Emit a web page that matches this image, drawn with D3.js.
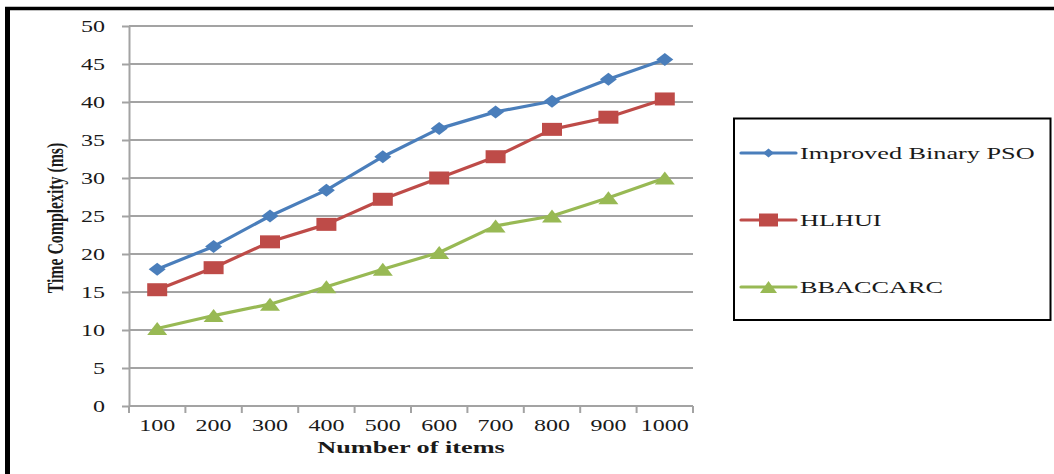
<!DOCTYPE html>
<html>
<head>
<meta charset="utf-8">
<script src="https://cdn.jsdelivr.net/npm/d3@7"></script>
<style>
  html, body { margin: 0; padding: 0; background: #fff; }
  svg { display: block; }
  text { font-family: "Liberation Serif", "Times New Roman", serif; fill: #1a1a1a; }
</style>
</head>
<body>
<svg id="chart" width="1054" height="474"></svg>
<script>
// Number of items on the x axis
const categories = ["100", "200", "300", "400", "500", "600", "700", "800", "900", "1000"];

// Time complexity (ms) for each method
const improvedBinaryPSO = [18.0, 21.0, 25.0, 28.4, 32.8, 36.5, 38.7, 40.1, 43.0, 45.6];
const hlhui             = [15.3, 18.2, 21.6, 23.9, 27.2, 30.0, 32.8, 36.4, 38.0, 40.4];
const bbaccarc          = [10.2, 11.9, 13.4, 15.7, 18.0, 20.2, 23.7, 25.0, 27.4, 30.0];

const seriesNames = ["Improved Binary PSO", "HLHUI", "BBACCARC"];
const yTicks = [0, 5, 10, 15, 20, 25, 30, 35, 40, 45, 50];

const series = [
  { name: seriesNames[0], values: improvedBinaryPSO, color: "#4a7ebb", marker: "diamond" },
  { name: seriesNames[1], values: hlhui,             color: "#be4b48", marker: "square" },
  { name: seriesNames[2], values: bbaccarc,          color: "#98b954", marker: "triangle" }
];

// Horizontal stretch applied to glyphs and markers
const SX = 1.5;

const svg = d3.select("#chart");
const plot = { left: 129, right: 693, top: 26, bottom: 406 };

const x = d3.scaleBand().domain(categories).range([plot.left, plot.right]).padding(0);
const y = d3.scaleLinear().domain([0, 50]).range([plot.bottom, plot.top]);
const cx = c => x(c) + x.bandwidth() / 2;

// Outer frame (left and top edges)
svg.append("line").attr("x1", 7.5).attr("x2", 7.5).attr("y1", 7).attr("y2", 474)
  .attr("stroke", "#000").attr("stroke-width", 5);
svg.append("line").attr("x1", 5).attr("x2", 1054).attr("y1", 8.5).attr("y2", 8.5)
  .attr("stroke", "#000").attr("stroke-width", 3.5);

const gridColor = "#a3a3a3";

// Horizontal gridlines
svg.append("g").selectAll("line")
  .data(yTicks.filter(t => t > 0))
  .join("line")
  .attr("x1", plot.left).attr("x2", plot.right)
  .attr("y1", d => y(d)).attr("y2", d => y(d))
  .attr("stroke", gridColor).attr("stroke-width", 2);

// Y axis
const yAxis = svg.append("g")
  .attr("transform", `translate(${plot.left},0)`)
  .call(d3.axisLeft(y).tickValues(yTicks).tickSize(7).tickSizeOuter(0).tickPadding(0));
yAxis.select(".domain").attr("stroke", gridColor).attr("stroke-width", 2);
yAxis.selectAll(".tick line").attr("stroke", gridColor).attr("stroke-width", 2);
yAxis.selectAll(".tick text")
  .attr("x", -24 / SX)
  .attr("dy", "0.35em")
  .attr("text-anchor", "end")
  .attr("transform", `scale(${SX},1)`)
  .style("font-size", "16px")
  .style("font-family", "'Liberation Serif', 'Times New Roman', serif")
  .attr("fill", "#1a1a1a");

// X axis line and boundary ticks
const xg = svg.append("g");
xg.append("line")
  .attr("x1", plot.left).attr("x2", plot.right)
  .attr("y1", plot.bottom).attr("y2", plot.bottom)
  .attr("stroke", gridColor).attr("stroke-width", 2);
const boundaries = categories.map(c => x(c)).concat([x.range()[1]]);
xg.selectAll("line.tick")
  .data(boundaries)
  .join("line").attr("class", "tick")
  .attr("x1", d => d).attr("x2", d => d)
  .attr("y1", plot.bottom).attr("y2", plot.bottom + 7)
  .attr("stroke", gridColor).attr("stroke-width", 2);

// X tick labels
xg.selectAll("text")
  .data(categories)
  .join("text")
  .attr("transform", d => `translate(${cx(d)},${plot.bottom + 19}) scale(${SX},1)`)
  .attr("dy", "0.35em")
  .attr("text-anchor", "middle")
  .style("font-size", "16px")
  .text(d => d);

// Axis titles
svg.append("text")
  .attr("transform", `translate(${(plot.left + plot.right) / 2},453) scale(${SX},1)`)
  .attr("text-anchor", "middle")
  .style("font-size", "17.5px")
  .style("font-weight", "bold")
  .text("Number of items");

svg.append("text")
  .attr("transform", `translate(63,218) scale(${SX},1) rotate(-90)`)
  .attr("text-anchor", "middle")
  .style("font-size", "15.8px")
  .style("font-weight", "bold")
  .text("Time Complexity (ms)");

// Marker shapes, widened horizontally
function markerPath(type, hw, hh) {
  if (type === "diamond") return `M${-hw},0L0,${-hh}L${hw},0L0,${hh}Z`;
  if (type === "square") return `M${-hw},${-hh}H${hw}V${hh}H${-hw}Z`;
  return `M0,${-hh}L${hw},${hh}H${-hw}Z`;
}
const markerSize = {
  diamond: [8.5, 6.5],
  square: [10, 6.5],
  triangle: [10, 6.5]
};

const line = d3.line().x(d => cx(d.c)).y(d => y(d.v));

series.forEach(s => {
  const pts = categories.map((c, i) => ({ c, v: s.values[i] }));
  const g = svg.append("g");
  g.append("path")
    .datum(pts)
    .attr("d", line)
    .attr("fill", "none")
    .attr("stroke", s.color)
    .attr("stroke-width", 3.2)
    .attr("stroke-linejoin", "round");
  const [hw, hh] = markerSize[s.marker];
  g.selectAll("path.m")
    .data(pts)
    .join("path").attr("class", "m")
    .attr("transform", d => `translate(${cx(d.c)},${y(d.v)})`)
    .attr("d", markerPath(s.marker, hw, hh))
    .attr("fill", s.color);
});

// Legend
const legend = svg.append("g");
legend.append("rect")
  .attr("x", 734).attr("y", 118.5)
  .attr("width", 316.5).attr("height", 201.5)
  .attr("fill", "#fff").attr("stroke", "#000").attr("stroke-width", 2);

const legendY = d3.scalePoint().domain(seriesNames).range([153, 287]);
const legendMarker = {
  diamond: [5.5, 4.5],
  square: [9.5, 6.5],
  triangle: [8.5, 6]
};

series.forEach(s => {
  const ly = legendY(s.name);
  legend.append("line")
    .attr("x1", 741).attr("x2", 796)
    .attr("y1", ly).attr("y2", ly)
    .attr("stroke", s.color).attr("stroke-width", 3.2)
    .attr("stroke-linecap", "round");
  const [hw, hh] = legendMarker[s.marker];
  legend.append("path")
    .attr("transform", `translate(768.5,${ly})`)
    .attr("d", markerPath(s.marker, hw, hh))
    .attr("fill", s.color);
  legend.append("text")
    .attr("transform", `translate(800,${ly}) scale(${SX},1)`)
    .attr("dy", "0.35em")
    .style("font-size", "17.5px")
    .text(s.name);
});
</script>
</body>
</html>
